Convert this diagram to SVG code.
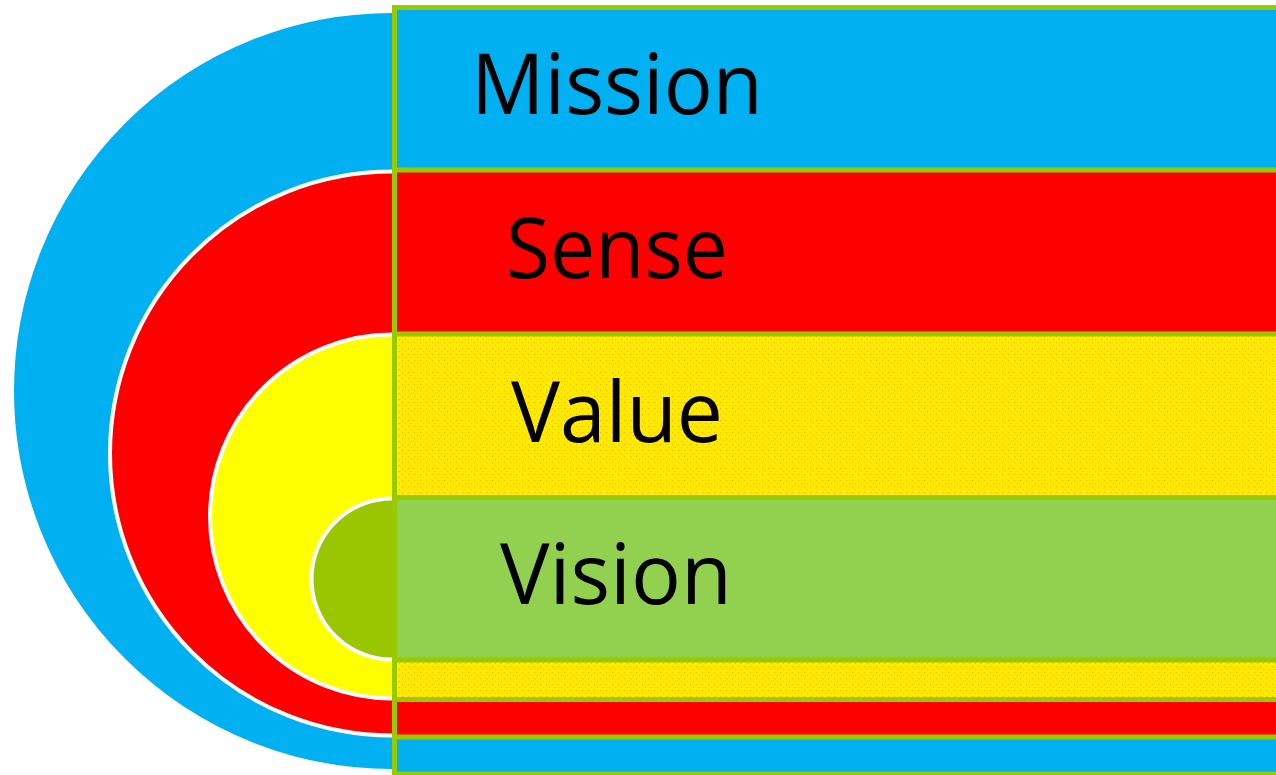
<svg xmlns="http://www.w3.org/2000/svg" width="1276" height="775" viewBox="0 0 1276 775">
<defs>
<pattern id="dots" width="6" height="6" patternUnits="userSpaceOnUse">
<rect width="6" height="6" fill="#FFEA00"/>
<rect x="0" y="0" width="1" height="1" fill="#FFB400"/>
<rect x="3" y="3" width="1" height="1" fill="#FFB400"/>
</pattern>
</defs>
<style>
.arc{stroke:#FFFFFF;stroke-width:4}
.band{stroke:#99C900;stroke-width:5}
.lbl{font-family:"Open Sans","Noto Sans","Liberation Sans",sans-serif;font-size:84px;fill:#000000}
</style>
<rect width="1276" height="775" fill="#FFFFFF"/>
<g id="arcs">
<path id="arc-mission" class="arc" fill="#00B0F0" d="M392,11 A380,380 0 0 0 392,771"/>
<path id="arc-sense" class="arc" fill="#FF0000" d="M392,171.5 A282,282 0 0 0 392,735.5"/>
<path id="arc-value" class="arc" fill="#FFFF00" d="M392,334.5 A182,182 0 0 0 392,698.5"/>
<path id="arc-vision" class="arc" fill="#99C600" d="M392,498.5 A80.5,80.5 0 0 0 392,659.5"/>
</g>
<g id="mission">
<rect class="band" x="394.5" y="7.5" width="900" height="766.5" fill="#00B0F0"/>
<text class="lbl" x="471" y="114" textLength="292" lengthAdjust="spacingAndGlyphs">Mission</text>
</g>
<g id="sense">
<rect class="band" x="394.5" y="170" width="900" height="567" fill="#FF0000"/>
<text class="lbl" x="506" y="278" textLength="222" lengthAdjust="spacingAndGlyphs">Sense</text>
</g>
<g id="value">
<rect class="band" x="394.5" y="334" width="900" height="365.5" fill="url(#dots)"/>
<text class="lbl" x="511" y="442" textLength="212" lengthAdjust="spacingAndGlyphs">Value</text>
</g>
<g id="vision">
<rect class="band" x="394.5" y="497.5" width="900" height="162.5" fill="#92D050"/>
<text class="lbl" x="500" y="604" textLength="232" lengthAdjust="spacingAndGlyphs">Vision</text>
</g>
</svg>
